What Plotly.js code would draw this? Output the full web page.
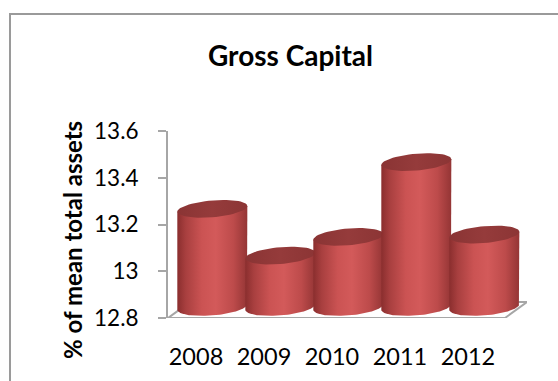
<!DOCTYPE html>
<html>
<head>
<meta charset="utf-8">
<script src="https://cdn.plot.ly/plotly-3.0.1.min.js"></script>
<style>
  html, body { margin:0; padding:0; background:#ffffff; }
  #wrap { position:relative; width:558px; height:381px; overflow:hidden; }
  #frame { position:absolute; left:9px; top:13px; width:700px; height:500px;
           border-left:2px solid #9a9a9a; border-top:2px solid #9a9a9a; }
  #chart { position:absolute; left:0; top:0; width:558px; height:381px; }
</style>
</head>
<body>
<div id="wrap">
  <div id="frame"></div>
  <div id="chart"></div>
</div>
<script>
// ---- data ----
const years = ['2008', '2009', '2010', '2011', '2012'];
const values = [13.22, 13.02, 13.10, 13.42, 13.11];
const yTickVals = [12.8, 13, 13.2, 13.4, 13.6];
const yTickText = ['12.8', '13', '13.2', '13.4', '13.6'];
const chartTitle = 'Gross Capital';
const yTitle = '% of mean total assets';

// ---- 3D-cylinder styling (geometry in axis units) ----
const SHIFT = 0.24;    // perspective shift of bars to the right of labels
const R = 0.515;       // cylinder half width
const B = 0.036;       // ellipse vertical semi-axis
const TILT = 0.012;    // slight ellipse tilt
const BASE = 12.847;   // bottom ellipse centre
const DEPTH = 0.047;   // top ellipse centre offset above value
const N = 60;

function ell(cx, cy, t0, t1) {
  const xs = [], ys = [];
  for (let k = 0; k <= N; k++) {
    const t = t0 + (t1 - t0) * k / N;
    xs.push(cx + R * Math.cos(t));
    ys.push(cy + B * Math.sin(t) + TILT * Math.cos(t));
  }
  return [xs, ys];
}

const traces = [];
years.forEach((yr, i) => {
  const cx = i + SHIFT;
  const top = values[i] + DEPTH;
  const [bx, by] = ell(cx, BASE, 0, -Math.PI);
  const xs = [cx - R, cx - R, cx + R, cx + R].concat(bx);
  const ys = [BASE - TILT, top - TILT, top + TILT, BASE + TILT].concat(by);
  traces.push({
    type: 'scatter', mode: 'lines', x: xs, y: ys, fill: 'toself',
    line: { width: 0, color: 'rgba(0,0,0,0)' },
    fillgradient: {
      type: 'horizontal',
      colorscale: [
        [0, '#8a2e2e'], [0.12, '#a83f3f'], [0.35, '#cb5353'],
        [0.55, '#d35a5a'], [0.8, '#bd4b4b'], [1, '#943535']
      ]
    },
    hoverinfo: 'skip', showlegend: false
  });
  const [cxs, cys] = ell(cx, top, 0, 2 * Math.PI);
  traces.push({
    type: 'scatter', mode: 'lines', x: cxs, y: cys, fill: 'toself',
    line: { width: 0, color: 'rgba(0,0,0,0)' },
    fillgradient: {
      type: 'horizontal',
      colorscale: [[0, '#8a3434'], [0.5, '#953b3b'], [1, '#8c3535']]
    },
    hoverinfo: 'skip', showlegend: false
  });
});

const XL = -0.412, XR = 4.868;
const floorFrontR = 4.544, floorDX = 0.324, floorDY = 0.068;

const layout = {
  width: 558, height: 381,
  margin: { l: 168, r: 31, t: 131, b: 63, pad: 0 },
  paper_bgcolor: 'rgba(0,0,0,0)',
  plot_bgcolor: 'rgba(0,0,0,0)',
  font: { family: 'Lato, "Open Sans", sans-serif', color: '#000000' },
  hovermode: false,
  showlegend: false,
  xaxis: {
    range: [XL, XR], showgrid: false, zeroline: false, showline: false,
    tickvals: [0, 1, 2, 3, 4], ticktext: years, ticks: '',
    tickfont: { size: 23.5, family: 'Lato, sans-serif', color: '#000' },
    ticklabelstandoff: 22, fixedrange: true
  },
  yaxis: {
    range: [12.8, 13.6], showgrid: false, zeroline: false,
    showline: true, linecolor: '#a6a6a6', linewidth: 2,
    tickvals: yTickVals, ticktext: yTickText,
    ticks: 'outside', ticklen: 8, tickwidth: 2, tickcolor: '#a6a6a6',
    tickfont: { size: 22.5, family: 'Lato, sans-serif', color: '#000' },
    ticklabelstandoff: 15, fixedrange: true
  },
  shapes: [{
    type: 'path', xref: 'x', yref: 'y', layer: 'below',
    path: 'M ' + XL + ',12.8 L ' + floorFrontR + ',12.8 L ' + (floorFrontR + floorDX) + ',' + (12.8 + floorDY) +
          ' L ' + (XL + floorDX) + ',' + (12.8 + floorDY) + ' Z',
    fillcolor: '#ffffff', line: { color: '#a6a6a6', width: 2 }
  }],
  annotations: [
    {
      text: '<b>' + chartTitle + '</b>', xref: 'paper', yref: 'paper',
      x: (290 - 168) / 359, y: (318 - 55) / 187, xanchor: 'center', yanchor: 'middle',
      showarrow: false, font: { size: 28, family: 'Lato, sans-serif', color: '#000' }
    },
    {
      text: '<b>' + yTitle + '</b>', xref: 'paper', yref: 'paper',
      x: (72 - 168) / 359, y: (318 - 240) / 187, xanchor: 'center', yanchor: 'middle',
      textangle: -90, showarrow: false,
      font: { size: 24, family: 'Lato, sans-serif', color: '#000' }
    }
  ]
};

Plotly.newPlot('chart', traces, layout, { staticPlot: true, displayModeBar: false });
</script>
</body>
</html>
